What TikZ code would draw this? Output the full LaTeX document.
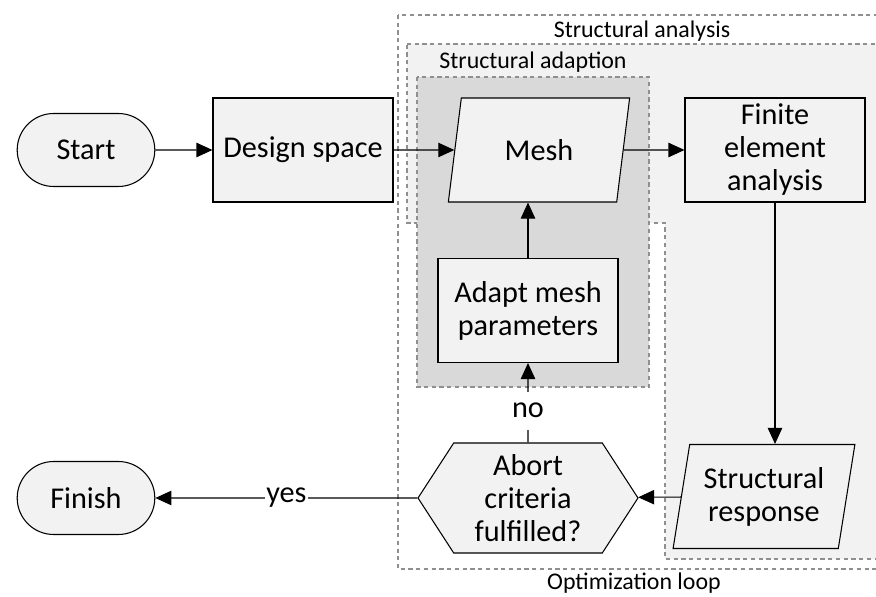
\documentclass[tikz,border=0pt]{standalone}
\usepackage{fontspec}
\setmainfont{Carlito}
\usepackage{tikz}
\usetikzlibrary{shapes.geometric,shapes.misc,shapes.symbols,arrows.meta}
\usepackage{xcolor}

\definecolor{boxfill}{HTML}{F2F2F2}
\definecolor{adaptfill}{HTML}{D9D9D9}
\definecolor{loopline}{HTML}{8F8F8F}

\begin{document}
\begin{tikzpicture}[
    font=\fontsize{21.5}{23.5}\selectfont,
    line width=0.75pt,
    terminal/.style={
      draw,
      rounded rectangle,
      fill=boxfill,
      minimum width=3.675cm,
      minimum height=1.825cm
    },
    process/.style={
      draw,
      rectangle,
      fill=boxfill,
      align=center,
      minimum width=4.5cm,
      minimum height=2.6cm
    },
    data/.style={
      draw,
      trapezium,
      trapezium left angle=78,
      trapezium right angle=102,
      trapezium stretches,
      fill=boxfill,
      align=center,
      minimum width=4.55cm,
      minimum height=2.6cm
    },
    decision/.style={
      draw,
      signal,
      signal to=west and east,
      signal pointer angle=114,
      fill=boxfill,
      align=center,
      inner sep=2pt,
      minimum width=5.5cm,
      minimum height=2.75cm
    },
    loopbox/.style={
      draw=loopline,
      dash pattern=on 3pt off 2.5pt,
      line width=1.2pt
    },
    boxlabel/.style={
      font=\fontsize{17}{19}\selectfont
    },
    flow/.style={
      -{Triangle[length=0.4cm,width=0.36cm]}
    }
  ]

    \useasboundingbox (0,0) rectangle (21.9,14.925);

    % Bereiche
    \draw[loopbox] (9.95,14.55) rectangle (22.3,0.7);
    \node[boxlabel] (looplabel) at (15.85,0.35) {Optimization loop};

    \draw[loopbox, fill=boxfill]
      (10.175,13.825) -- (22.2,13.825) -- (22.2,0.95) -- (16.625,0.95)
      -- (16.625,9.35) -- (10.175,9.35) -- cycle;
    \node[boxlabel] (analysislabel) at (16.05,14.15) {Structural analysis};

    \draw[loopbox, fill=adaptfill] (10.425,13.0) rectangle (16.225,5.25);
    \node[boxlabel] (adaptionlabel) at (13.325,13.37) {Structural adaption};

    % Schritte
    \node[terminal] (start) at (2.15,11.175) {Start};
    \node[process] (design) at (7.575,11.175) {Design space};
    \node[data] (mesh) at (13.475,11.175) {Mesh};
    \node[process] (fea) at (19.375,11.175) {Finite\\element\\analysis};
    \node[process] (adapt) at (13.2,7.1625) {Adapt mesh\\parameters};
    \node[data] (response) at (19.1,2.5125) {Structural\\response};
    \node[decision] (abort) at (13.2,2.475) {Abort\\criteria\\fulfilled?};
    \node[terminal] (finish) at (2.15,2.475) {Finish};

    % Verbindungen
    \draw[flow] (start) -- (design);
    \draw[flow] (design) -- (mesh);
    \draw[flow] (mesh) -- (fea);
    \draw[flow] (fea) -- (fea |- response.north);
    \draw[flow] (response) -- (abort);
    \draw[flow] (abort) -- node[pos=0.4, fill=white, minimum height=0.95cm] {no} (adapt);
    \draw[flow] (adapt.north) -- (adapt.north |- mesh.south);
    \draw[flow] (abort) -- node[fill=white, inner sep=1pt] {yes} (finish);

  \end{tikzpicture}
\end{document}
